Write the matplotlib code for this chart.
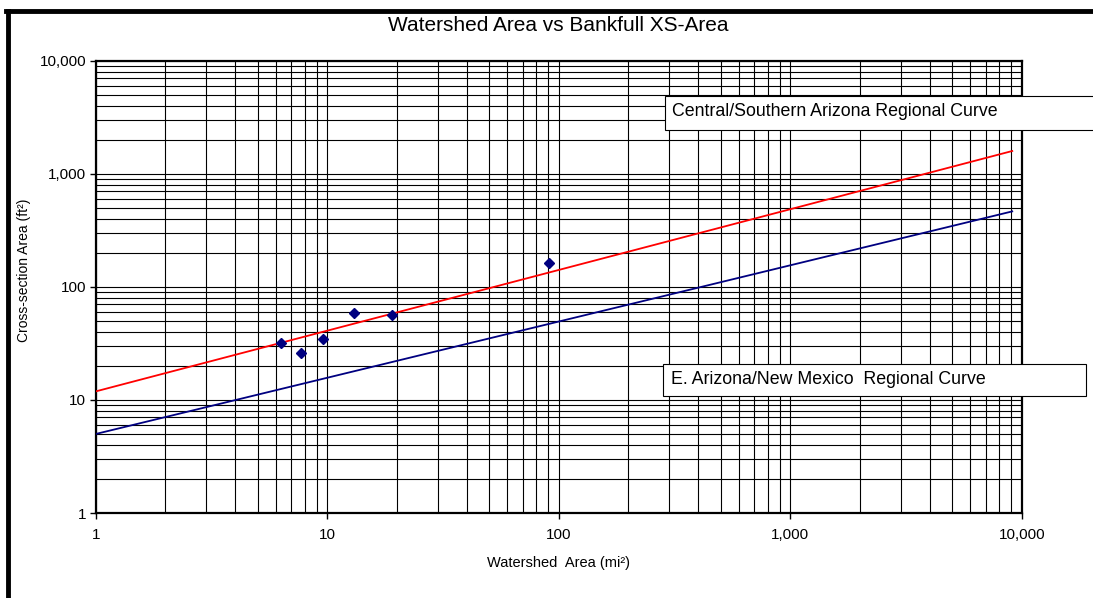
import matplotlib
matplotlib.use("Agg")
import matplotlib.pyplot as plt
from matplotlib.ticker import FixedLocator, FuncFormatter, LogLocator, NullFormatter
from matplotlib.patches import Rectangle
from matplotlib.lines import Line2D

plt.rcParams['font.family'] = ['Liberation Sans', 'DejaVu Sans']

# Measured data points
area_mi2 = [6.3, 7.7, 9.6, 13.0, 19.0, 91.0]
xs_area_ft2 = [32, 26, 34.5, 59, 56.5, 163]

# Regional curves (straight lines in log-log, endpoints)
curve_x = [1, 9100]
central_y = [11.9, 1590]
eastern_y = [5.0, 465]

major_ticks = [1, 10, 100, 1000, 10000]

fig = plt.figure(figsize=(10.93, 5.98), dpi=100)
ax = fig.add_axes([0.0876, 0.1421, 0.8472, 0.7564])

ax.set_xscale('log')
ax.set_yscale('log')
ax.set_xlim(1, 10000)
ax.set_ylim(1, 10000)

ax.plot(curve_x, central_y, color='#ff0000', lw=1.3, zorder=3)
ax.plot(curve_x, eastern_y, color='#000080', lw=1.3, zorder=3)
ax.plot(area_mi2, xs_area_ft2, 'D', color='#000080', ms=5, zorder=4)

fmt = FuncFormatter(lambda v, p: '{:,.0f}'.format(v))
for axis in (ax.xaxis, ax.yaxis):
    axis.set_major_locator(FixedLocator(major_ticks))
    axis.set_major_formatter(fmt)
    axis.set_minor_locator(LogLocator(base=10, subs=range(2, 10)))
    axis.set_minor_formatter(NullFormatter())

ax.grid(True, which='both', color='black', lw=0.8)
ax.tick_params(which='major', direction='out', length=4, width=1, labelsize=11, pad=3)
ax.tick_params(which='minor', length=0)
ax.tick_params(axis='x', pad=7)
for s in ax.spines.values():
    s.set_linewidth(1.6)

ax.set_xlabel('Watershed  Area (mi²)', fontsize=10.5, labelpad=10)
ax.set_ylabel('Cross-section Area (ft²)', fontsize=10)
ax.yaxis.set_label_coords(-0.070, 0.537)
fig.text(0.511, 0.958, 'Watershed Area vs Bankfull XS-Area', ha='center', va='center', fontsize=15)

# annotation boxes
fig.patches.append(Rectangle((665 / 1093, 1 - 130 / 598), 440 / 1093, 34 / 598,
                             transform=fig.transFigure, facecolor='white', edgecolor='black', lw=0.8, zorder=5))
fig.text(672 / 1093, 1 - 111 / 598, 'Central/Southern Arizona Regional Curve', fontsize=12.8,
         va='center', ha='left', zorder=6)
fig.patches.append(Rectangle((663 / 1093, 1 - 396 / 598), 423 / 1093, 32 / 598,
                             transform=fig.transFigure, facecolor='white', edgecolor='black', lw=0.8, zorder=5))
fig.text(671 / 1093, 1 - 379 / 598, 'E. Arizona/New Mexico  Regional Curve', fontsize=12.8,
         va='center', ha='left', zorder=6)

# outer frame (left and top edges)
fig.lines.append(Line2D([8 / 1093, 8 / 1093], [0, 1 - 10.5 / 598], transform=fig.transFigure,
                        color='black', lw=3.5))
fig.lines.append(Line2D([6 / 1093, 1], [1 - 10.5 / 598, 1 - 10.5 / 598], transform=fig.transFigure,
                        color='black', lw=3.5))

fig.savefig('out.png', dpi=100)
